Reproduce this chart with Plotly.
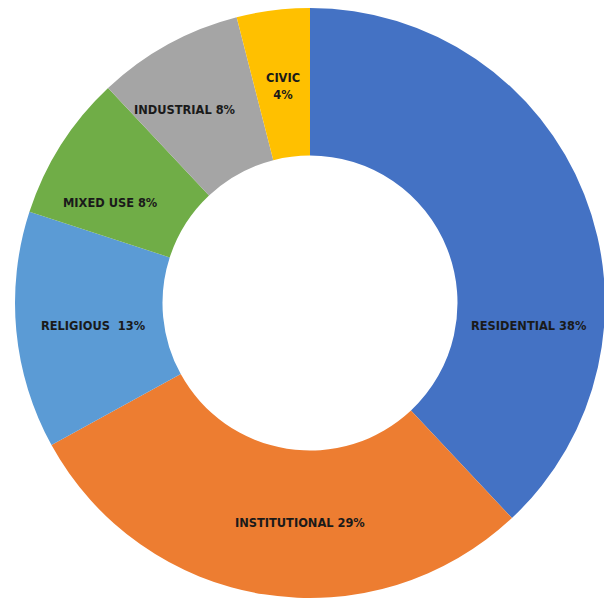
import plotly.graph_objects as go

categories = ["RESIDENTIAL", "INSTITUTIONAL", "RELIGIOUS", "MIXED USE", "INDUSTRIAL", "CIVIC"]
values = [38, 29, 13, 8, 8, 4]
label_texts = ["RESIDENTIAL 38%", "INSTITUTIONAL 29%", "RELIGIOUS  13%", "MIXED USE 8%", "INDUSTRIAL 8%", "CIVIC<br>4%"]
colors = ["#4472C4", "#ED7D31", "#5B9BD5", "#70AD47", "#A5A5A5", "#FFC000"]
# label anchor positions (pixels in the page)
label_px = [(529, 326), (300, 522), (93, 326), (110, 202), (185, 110), (283, 86)]

OFF = 8  # default page body margin
W, H = 612 - OFF, 599 - OFF
cx, cy, r = 310 - OFF, 303 - OFF, 295

fig = go.Figure(go.Pie(
    labels=categories,
    values=values,
    hole=0.5,
    sort=False,
    direction="clockwise",
    rotation=0,
    marker=dict(colors=colors, line=dict(color="white", width=0)),
    textinfo="none",
    hoverinfo="label+percent",
    showlegend=False,
    domain=dict(x=[(cx - r) / W, (cx + r) / W],
                y=[max(0, (H - cy - r) / H), min(1, (H - cy + r) / H)]),
))

for txt, (px, py) in zip(label_texts, label_px):
    fig.add_annotation(
        x=(px - OFF) / W, y=1 - (py - OFF) / H, xref="paper", yref="paper",
        text="<b>" + txt + "</b>", showarrow=False,
        xanchor="center", yanchor="middle",
        font=dict(family="DejaVu Sans Condensed, Liberation Sans Narrow, sans-serif", size=12.7, color="#1a1a1a"),
    )

fig.update_layout(
    width=W, height=H,
    margin=dict(l=0, r=0, t=0, b=0),
    paper_bgcolor="white",
    plot_bgcolor="white",
)

fig.write_html("out.html")
